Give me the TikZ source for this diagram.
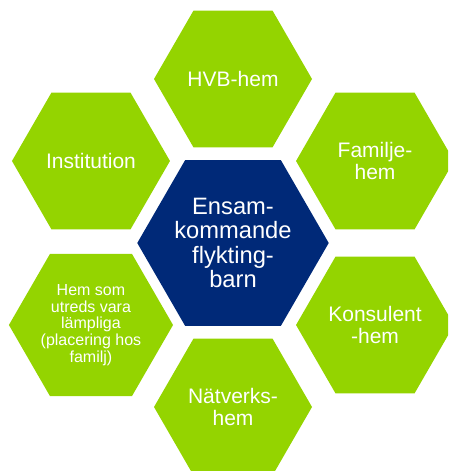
\documentclass[tikz,border=0pt]{standalone}
\usepackage{fontspec}
\setmainfont{Liberation Sans}
\usepackage{tikz}
\usetikzlibrary{shapes.geometric, positioning, calc}

\definecolor{leaf}{RGB}{148,212,0}
\definecolor{navy}{RGB}{0,41,120}

\begin{document}
\begin{tikzpicture}[
    x=1pt, y=1pt,
    cell/.style={regular polygon, regular polygon sides=6, fill=#1, inner sep=0pt, text=white, align=center},
    outer/.style={cell=leaf, minimum size=158pt, font=\fontsize{21}{21.5}\selectfont},
    core/.style={cell=navy, minimum size=186pt, font=\fontsize{23.7}{24.3}\selectfont}
]
    \useasboundingbox (0,0) rectangle (448,471);
    \clip (0,0) rectangle (448,471);

    \node[core] (hub) at (233,228) {Ensam-\\kommande\\flykting-\\barn};
    \node[outer] (hvb) at ($(hub)+(90:164)$) {HVB-hem};
    \node[outer] (familj) at ($(hub)+(30:164)$) {Familje-\\hem};
    \node[outer] (konsulent) at ($(hub)+(-30:164)$) {Konsulent\\-hem};
    \node[outer] (natverk) at ($(hub)+(-90:164)$) {Nätverks-\\hem};
    \node[outer, font=\fontsize{16}{16.7}\selectfont] (hemsom) at ($(hub)+(210:164)$) {Hem som\\utreds vara\\lämpliga\\(placering hos\\familj)};
    \node[outer] (institution) at ($(hub)+(150:164)$) {Institution};
\end{tikzpicture}
\end{document}
